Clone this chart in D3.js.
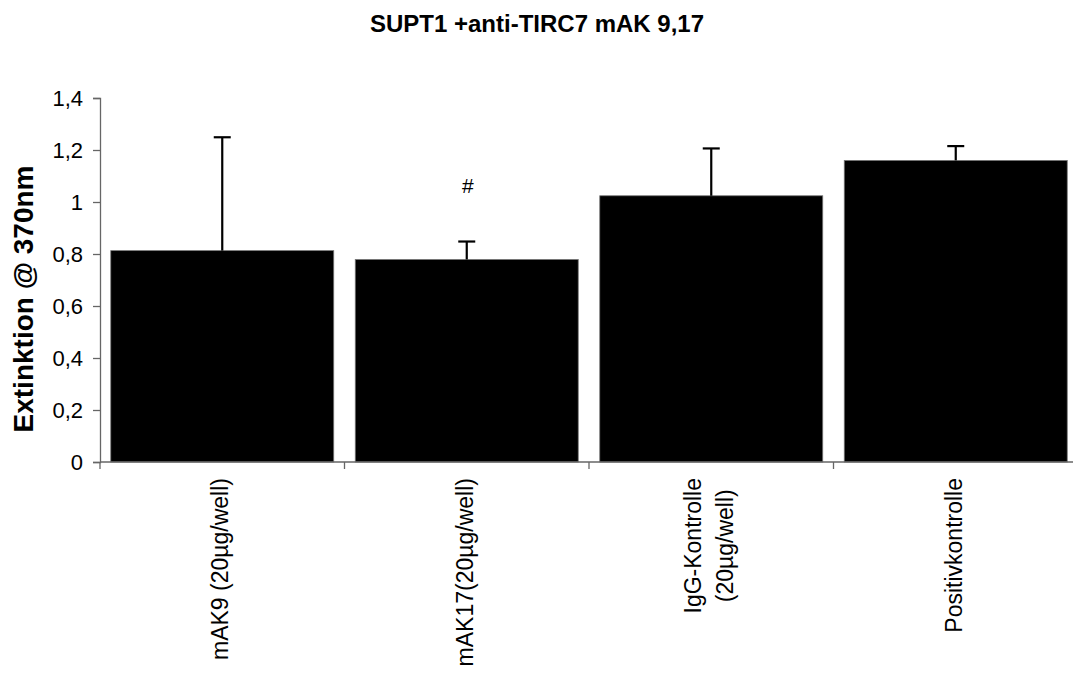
<!DOCTYPE html>
<html><head><meta charset="utf-8">
<script src="https://cdn.jsdelivr.net/npm/d3@7"></script>
<style>body{margin:0;background:#fff}svg{display:block;font-family:"Liberation Sans",Arial,sans-serif}</style>
</head><body><svg id="c" width="1073" height="676"></svg>
<script>
const categories = [["mAK9 (20µg/well)"], ["mAK17(20µg/well)"], ["IgG-Kontrolle", "(20µg/well)"], ["Positivkontrolle"]];
const values = [0.813, 0.779, 1.024, 1.160];
const errors = [0.436, 0.069, 0.182, 0.055];
const annotations = ["", "#", "", ""];
const yTicks = [0, 0.2, 0.4, 0.6, 0.8, 1.0, 1.2, 1.4];

const svg = d3.select("#c");
const x = d3.scaleBand().domain(d3.range(categories.length)).range([100, 1078]).paddingInner(0.088).paddingOuter(0.044);
const xTick = d3.scaleLinear().domain([0, categories.length]).range([100, 1078]);
const y = d3.scaleLinear().domain([0, 1.4]).range([462, 98]);
const fmt = d => String(+d.toFixed(1)).replace(".", ",");

// bars
svg.append("g").selectAll("rect").data(values).join("rect")
  .attr("x", (d, i) => x(i)).attr("width", x.bandwidth())
  .attr("y", d => y(d)).attr("height", d => y(0) - y(d))
  .attr("fill", "#000").attr("stroke", "#777").attr("stroke-width", 0.8);

// error bars
const eg = svg.append("g").attr("stroke", "#000").attr("stroke-width", 2.2);
values.forEach((v, i) => {
  const cx = x(i) + x.bandwidth() / 2;
  eg.append("line").attr("x1", cx).attr("x2", cx).attr("y1", y(v)).attr("y2", y(v + errors[i]));
  eg.append("line").attr("x1", cx - 8.5).attr("x2", cx + 8.5).attr("y1", y(v + errors[i])).attr("y2", y(v + errors[i]));
});

// annotations
svg.append("g").selectAll("text").data(annotations).join("text")
  .attr("x", (d, i) => x(i) + x.bandwidth() / 2 + 1)
  .attr("y", (d, i) => y(values[i] + errors[i]) - 49)
  .attr("text-anchor", "middle").attr("font-size", 21).text(d => d);

// y axis
const ya = svg.append("g").attr("transform", "translate(100,0)")
  .call(d3.axisLeft(y).tickValues(yTicks).tickSize(7).tickPadding(10).tickFormat(fmt));
ya.select(".domain").attr("stroke", "#666").attr("stroke-width", 1.3);
ya.selectAll(".tick line").attr("stroke", "#666").attr("stroke-width", 1.3);
ya.selectAll(".tick text").attr("font-size", 22).attr("fill", "#000").attr("font-family", "Liberation Sans, Arial, sans-serif");

// x axis
const xa = svg.append("g").attr("transform", `translate(0,${y(0)})`);
xa.append("line").attr("x1", 100).attr("x2", 1078).attr("stroke", "#666").attr("stroke-width", 1.3);
xa.selectAll("line.t").data(d3.range(categories.length + 1)).join("line").attr("class", "t")
  .attr("x1", d => xTick(d)).attr("x2", d => xTick(d)).attr("y1", 0).attr("y2", 7)
  .attr("stroke", "#666").attr("stroke-width", 1.3);

// x labels
const lineH = 32;
categories.forEach((lines, i) => {
  const cx = x(i) + x.bandwidth() / 2 + 6;
  const n = lines.length;
  const g = svg.append("g");
  const texts = lines.map((t, j) => g.append("text").attr("font-size", 23).attr("text-anchor", "middle").text(t));
  const maxLen = d3.max(texts, t => t.node().getComputedTextLength());
  const cy = 478 + maxLen / 2;
  texts.forEach((t, j) => {
    const lx = cx + (j - (n - 1) / 2) * lineH;
    t.attr("transform", `translate(${lx},${cy}) rotate(-90)`);
  });
});

// title
svg.append("text").attr("x", 537).attr("y", 32).attr("text-anchor", "middle")
  .attr("font-size", 24).attr("font-weight", "bold").text("SUPT1 +anti-TIRC7 mAK 9,17");
// y title
svg.append("text").attr("transform", "translate(33,299) rotate(-90)").attr("text-anchor", "middle")
  .attr("font-size", 28).attr("font-weight", "bold").text("Extinktion @ 370nm");
</script></body></html>
